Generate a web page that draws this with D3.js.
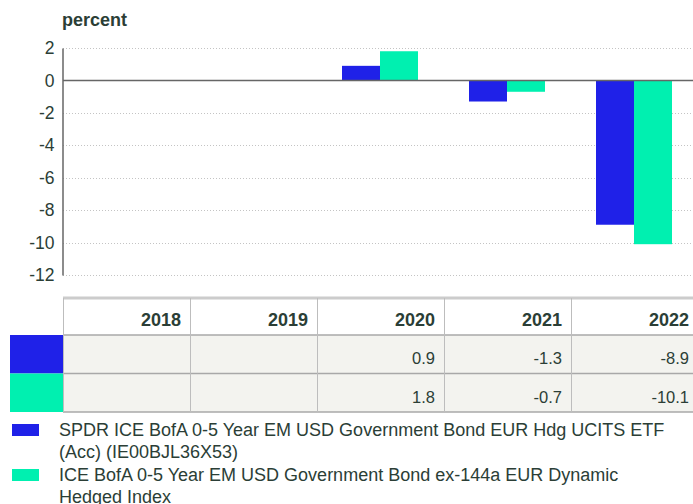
<!DOCTYPE html>
<html>
<head>
<meta charset="utf-8">
<script src="https://cdn.jsdelivr.net/npm/d3@7/dist/d3.min.js"></script>
<style>
  html, body { margin: 0; padding: 0; background: #fff; overflow: hidden; }
  svg { display: block; }
</style>
</head>
<body>
<script>
// Data
const years = ["2018", "2019", "2020", "2021", "2022"];
const seriesNames = [
  "SPDR ICE BofA 0-5 Year EM USD Government Bond EUR Hdg UCITS ETF (Acc) (IE00BJL36X53)",
  "ICE BofA 0-5 Year EM USD Government Bond ex-144a EUR Dynamic Hedged Index"
];
const fundValues = [null, null, 0.9, -1.3, -8.9];
const indexValues = [null, null, 1.8, -0.7, -10.1];
const yTicks = [2, 0, -2, -4, -6, -8, -10, -12];
const colors = ["#1f21e8", "#00f0b0"];

const W = 693, H = 504;
const textColor = "#2b3e36";
const font = "'Liberation Sans', Arial, sans-serif";

const svg = d3.select("body").append("svg")
  .attr("width", W).attr("height", H)
  .style("font-family", font);

const plotLeft = 63, plotRight = 698;
const x = d3.scaleBand().domain(years).range([plotLeft, plotRight]).padding(0);
const xSub = d3.scaleBand().domain([0, 1]).range([25, x.bandwidth() - 26]).padding(0);
const y = d3.scaleLinear().domain([-12, 2]).range([275, 48]);

// Unit label
svg.append("text")
  .attr("x", 62).attr("y", 26)
  .style("font-size", "18px").style("font-weight", "bold")
  .attr("fill", textColor)
  .text("percent");

// Gridlines
svg.append("g").selectAll("line")
  .data(yTicks.filter(d => d !== 0))
  .join("line")
  .attr("x1", plotLeft).attr("x2", W)
  .attr("y1", d => Math.round(y(d)) + 0.5).attr("y2", d => Math.round(y(d)) + 0.5)
  .attr("stroke", "#c4c4c4").attr("stroke-dasharray", "1,2");

// Y axis
const yAxis = svg.append("g")
  .attr("transform", `translate(${plotLeft - 0.5},0)`)
  .call(d3.axisLeft(y).tickValues(yTicks).tickSize(0).tickPadding(8).tickFormat(d => String(d)));
yAxis.select(".domain").attr("stroke", "#666").attr("stroke-width", 1.5);
yAxis.selectAll("text")
  .style("font-size", "17.5px").style("font-family", font)
  .attr("fill", textColor);

// Bars
const rows = [fundValues, indexValues];
rows.forEach((vals, si) => {
  svg.append("g").selectAll("rect")
    .data(years.map((yr, i) => ({yr, v: vals[i]})).filter(d => d.v !== null))
    .join("rect")
    .attr("x", d => x(d.yr) + xSub(si))
    .attr("width", xSub.bandwidth())
    .attr("y", d => y(Math.max(0, d.v)))
    .attr("height", d => Math.abs(y(d.v) - y(0)))
    .attr("fill", colors[si]);
});

// Zero line
svg.append("line")
  .attr("x1", plotLeft).attr("x2", W)
  .attr("y1", y(0)).attr("y2", y(0))
  .attr("stroke", "#666").attr("stroke-width", 1.5);

// Table
const tTop = 298, hRow = 37, dRow = 38.5;
const table = svg.append("g");
table.append("rect")
  .attr("x", plotLeft).attr("y", tTop + hRow)
  .attr("width", W - plotLeft).attr("height", dRow * 2)
  .attr("fill", "#f3f3ef");
rows.forEach((vals, si) => {
  table.append("rect")
    .attr("x", 10).attr("y", tTop + hRow + si * dRow)
    .attr("width", plotLeft - 10).attr("height", dRow)
    .attr("fill", colors[si]);
});
table.append("line")
  .attr("x1", plotLeft).attr("x2", W)
  .attr("y1", tTop).attr("y2", tTop)
  .attr("stroke", "#cccccc").attr("stroke-width", 3);
[tTop + hRow, tTop + hRow + dRow, tTop + hRow + 2 * dRow].forEach(yy => {
  table.append("line")
    .attr("x1", plotLeft).attr("x2", W)
    .attr("y1", yy).attr("y2", yy)
    .attr("stroke", "#a8a8a8").attr("stroke-width", 1.5);
});
table.selectAll("line.v")
  .data(years)
  .join("line")
  .attr("class", "v")
  .attr("x1", d => x(d) + 0.5).attr("x2", d => x(d) + 0.5)
  .attr("y1", tTop).attr("y2", tTop + hRow + 2 * dRow)
  .attr("stroke", "#bdbdbd").attr("stroke-width", 1);

table.selectAll("text.hdr")
  .data(years)
  .join("text")
  .attr("class", "hdr")
  .attr("x", d => x(d) + x.bandwidth() - 9)
  .attr("y", tTop + 28)
  .attr("text-anchor", "end")
  .style("font-size", "18px").style("font-weight", "bold")
  .attr("fill", textColor)
  .text(d => d);

rows.forEach((vals, si) => {
  table.selectAll(`text.val${si}`)
    .data(years.map((yr, i) => ({yr, v: vals[i]})).filter(d => d.v !== null))
    .join("text")
    .attr("class", `val${si}`)
    .attr("x", d => x(d.yr) + x.bandwidth() - 9)
    .attr("y", tTop + hRow + si * dRow + 29)
    .attr("text-anchor", "end")
    .style("font-size", "16.5px")
    .attr("fill", textColor)
    .text(d => d.v.toFixed(1));
});

// Legend
const legendLines = [
  ["SPDR ICE BofA 0-5 Year EM USD Government Bond EUR Hdg UCITS ETF", "(Acc) (IE00BJL36X53)"],
  ["ICE BofA 0-5 Year EM USD Government Bond ex-144a EUR Dynamic", "Hedged Index"]
];
legendLines.forEach((lines, si) => {
  const top = 424 + si * 45;
  svg.append("rect")
    .attr("x", 12).attr("y", top)
    .attr("width", 27).attr("height", 12)
    .attr("fill", colors[si]);
  const t = svg.append("text")
    .attr("x", 59).attr("y", top + 12)
    .style("font-size", "18px")
    .attr("fill", textColor);
  lines.forEach((ln, li) => {
    t.append("tspan").attr("x", 59).attr("dy", li === 0 ? 0 : 22).text(ln);
  });
});
</script>
</body>
</html>
